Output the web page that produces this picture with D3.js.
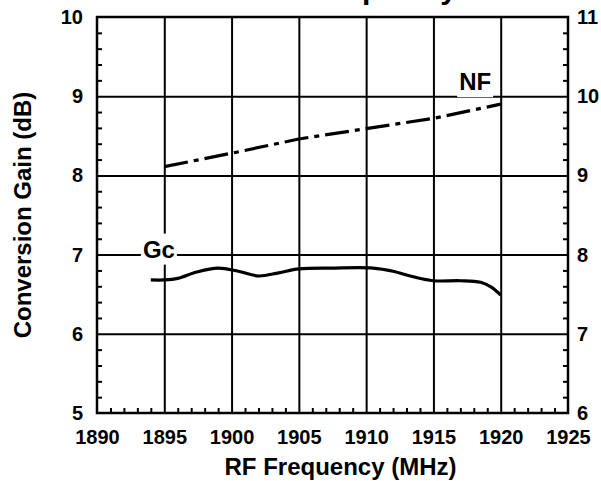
<!DOCTYPE html>
<html>
<head>
<meta charset="utf-8">
<script src="https://cdn.jsdelivr.net/npm/d3@7"></script>
<style>
	body { margin: 0; background: #fff; }
	svg text { font-family: "Liberation Sans", Arial, sans-serif; font-weight: bold; fill: #000; }
</style>
</head>
<body>
<svg id="chart" width="601" height="481"></svg>
<script>
// Gc (left axis, dB)
var gcFreq = [1894, 1895, 1896, 1897.4, 1899, 1900.5, 1902, 1903.5, 1905, 1907.5, 1910.5, 1912, 1913.5, 1915, 1917, 1918.5, 1919.3, 1920];
var gcValues = [6.68, 6.68, 6.70, 6.78, 6.83, 6.79, 6.73, 6.77, 6.82, 6.83, 6.83, 6.79, 6.72, 6.67, 6.67, 6.65, 6.59, 6.49];

// NF (right axis, dB)
var nfFreq = [1895, 1900, 1905, 1910, 1915, 1920];
var nfValues = [9.11, 9.28, 9.46, 9.59, 9.72, 9.90];

var xTicks = [1890, 1895, 1900, 1905, 1910, 1915, 1920, 1925];
var leftTicks = [5, 6, 7, 8, 9, 10];
var rightTicks = [6, 7, 8, 9, 10, 11];

var svg = d3.select("#chart"),
	margin = {top: 17, right: 33, bottom: 68, left: 97},
	width = +svg.attr("width") - margin.left - margin.right,
	height = +svg.attr("height") - margin.top - margin.bottom,
	g = svg.append("g").attr("transform", "translate(" + margin.left + "," + margin.top + ")");

var x = d3.scaleLinear().domain([1890, 1925]).range([0, width]);
var yL = d3.scaleLinear().domain([5, 10]).range([height, 0]);
var yR = d3.scaleLinear().domain([6, 11]).range([height, 0]);

// minor tick positions
var xMinor = d3.range(1890, 1925.01, 1).filter(function(d) { return d % 5 !== 0; });
var yMinorL = d3.range(5, 10.001, 0.2).filter(function(d) { return Math.abs(d - Math.round(d)) > 0.01; });
var yMinorR = yMinorL.map(function(d) { return d + 1; });

// grid
g.append("g")
	.attr("class", "grid")
	.attr("transform", "translate(0," + height + ")")
	.call(d3.axisBottom(x).tickValues(xTicks.slice(1, -1)).tickSize(-height).tickFormat(""));
g.append("g")
	.attr("class", "grid")
	.call(d3.axisLeft(yL).tickValues(leftTicks.slice(1, -1)).tickSize(-width).tickFormat(""));
g.selectAll(".grid .domain").remove();
g.selectAll(".grid line").attr("stroke", "#000").attr("stroke-width", 2);

// minor ticks (inside)
g.append("g")
	.attr("transform", "translate(0," + height + ")")
	.call(d3.axisBottom(x).tickValues(xMinor).tickSize(-5).tickFormat(""))
	.call(function(a) { a.select(".domain").remove(); });
g.append("g")
	.call(d3.axisLeft(yL).tickValues(yMinorL).tickSize(-5).tickFormat(""))
	.call(function(a) { a.select(".domain").remove(); });
g.append("g")
	.attr("transform", "translate(" + width + ",0)")
	.call(d3.axisRight(yR).tickValues(yMinorR).tickSize(-5).tickFormat(""))
	.call(function(a) { a.select(".domain").remove(); });
g.selectAll(".tick line").attr("stroke", "#000").attr("stroke-width", 2);

// tick labels
var xAxis = g.append("g")
	.attr("transform", "translate(0," + height + ")")
	.call(d3.axisBottom(x).tickValues(xTicks).tickSize(0).tickPadding(17).tickFormat(d3.format("d")));
var lAxis = g.append("g")
	.call(d3.axisLeft(yL).tickValues(leftTicks).tickSize(0).tickPadding(14).tickFormat(d3.format("d")));
var rAxis = g.append("g")
	.attr("transform", "translate(" + width + ",0)")
	.call(d3.axisRight(yR).tickValues(rightTicks).tickSize(0).tickPadding(9).tickFormat(d3.format("d")));
[xAxis, lAxis, rAxis].forEach(function(a) {
	a.select(".domain").remove();
	a.selectAll("text").style("font-size", "20px").attr("font-family", null);
});

// frame
g.append("rect")
	.attr("width", width)
	.attr("height", height)
	.attr("fill", "none")
	.attr("stroke", "#000")
	.attr("stroke-width", 2.5);

// data lines
var gcLine = d3.line()
	.x(function(d, i) { return x(gcFreq[i]); })
	.y(function(d) { return yL(d); })
	.curve(d3.curveCatmullRom.alpha(0.5));

var nfLine = d3.line()
	.x(function(d, i) { return x(nfFreq[i]); })
	.y(function(d) { return yR(d); });

g.append("path")
	.datum(gcValues)
	.attr("d", gcLine)
	.attr("fill", "none")
	.attr("stroke", "#000")
	.attr("stroke-width", 3.2);

g.append("path")
	.datum(nfValues)
	.attr("d", nfLine)
	.attr("fill", "none")
	.attr("stroke", "#000")
	.attr("stroke-width", 3.2)
	.attr("stroke-dasharray", "24,6,5,6");

// series labels with white boxes over the grid
function seriesLabel(txt, cx, baseline) {
	var t = g.append("text")
		.attr("x", cx)
		.attr("y", baseline)
		.attr("text-anchor", "middle")
		.style("font-size", "24px")
		.text(txt);
	var b = t.node().getBBox();
	g.insert("rect", function() { return t.node(); })
		.attr("x", b.x - 2)
		.attr("y", b.y - 2)
		.attr("width", b.width + 4)
		.attr("height", b.height + 4)
		.attr("fill", "#fff");
}
seriesLabel("Gc", x(1894.6), yL(7) + 3);
seriesLabel("NF", x(1918.1), yR(10) - 6);

// titles
svg.append("text")
	.attr("x", 332)
	.attr("y", -1)
	.attr("text-anchor", "middle")
	.style("font-size", "30px")
	.text("Gc vs. Frequency");

svg.append("text")
	.attr("x", margin.left + width / 2 + 8)
	.attr("y", 475)
	.attr("text-anchor", "middle")
	.style("font-size", "24px")
	.text("RF Frequency (MHz)");

svg.append("text")
	.attr("transform", "translate(31," + (margin.top + height / 2) + ") rotate(-90)")
	.attr("text-anchor", "middle")
	.style("font-size", "24px")
	.text("Conversion Gain (dB)");
</script>
</body>
</html>
